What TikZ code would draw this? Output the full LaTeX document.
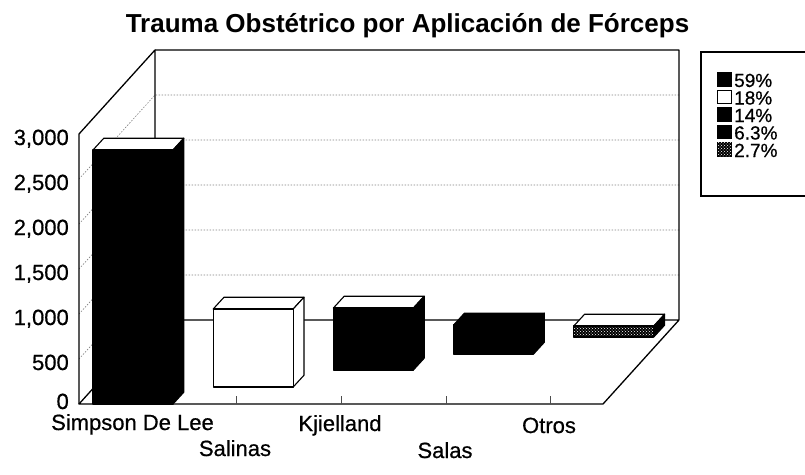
\documentclass[tikz,border=0pt]{standalone}
\usepackage{fontspec}
\setmainfont{Liberation Sans}
\newfontfamily\scanf{Liberation Sans}[FakeBold=0.6]
\usetikzlibrary{patterns}
\newcommand{\cbox}[8]{% x, y0, h, w, front, top, side, name
  \fill[#6] ({#1},{#2-#3}) -- ({#1+#4},{#2-#3}) -- ++(10.8,-11.8) -- ++({-#4},0) -- cycle;
  \draw[barline] ({#1},{#2-#3}) -- ({#1+#4},{#2-#3}) -- ++(10.8,-11.8) -- ++({-#4},0) -- cycle;
  \fill[#7] ({#1+#4},{#2}) -- ({#1+#4},{#2-#3}) -- ++(10.8,-11.8) -- ++(0,{#3}) -- cycle;
  \draw[barline] ({#1+#4},{#2}) -- ({#1+#4},{#2-#3}) -- ++(10.8,-11.8) -- ++(0,{#3}) -- cycle;
  \fill[#5] ({#1},{#2}) rectangle ({#1+#4},{#2-#3});
  \draw[barline] ({#1},{#2}) rectangle ({#1+#4},{#2-#3});
  \coordinate (#8) at ({#1},{#2});
}
\begin{document}
\begin{tikzpicture}[x=1pt,y=-1pt,
  axislab/.style={font=\scanf\fontsize{22}{22}\selectfont, anchor=base east, inner sep=0pt},
  catlab/.style={font=\scanf\fontsize{22}{22}\selectfont, anchor=base, inner sep=0pt},
  leglab/.style={font=\scanf\fontsize{19}{19}\selectfont, anchor=base west, inner sep=0pt},
  frame/.style={line width=1.3pt, line join=round},
  gridln/.style={black!50, line width=0.6pt, dash pattern=on 1.5pt off 1.5pt},
  barline/.style={black, line width=1.1pt, line join=round},
  tick/.style={black!70, line width=0.6pt},
  pat/.style={fill=black, postaction={pattern=crosshatch dots, pattern color=white}},
  legsq/.style={draw=black, line width=1pt}
]
\useasboundingbox (0,0) rectangle (805,474);

% frame coordinates
\coordinate (FL0) at (79,404);
\coordinate (FLT) at (79,134);
\coordinate (BL0) at (155,320);
\coordinate (BLT) at (155,50);
\coordinate (BR0) at (679,320);
\coordinate (BRT) at (679,50);
\coordinate (FR0) at (603,404);

% gridlines
\foreach \k in {1,...,5}{
  \coordinate (gf\k) at (79,{404-45*\k});
  \coordinate (gb\k) at (155,{320-45*\k});
  \coordinate (ge\k) at (679,{320-45*\k});
  \draw[gridln] (gf\k) -- (gb\k) -- (ge\k);
}

% walls and floor
\draw[frame] (FL0) -- (FLT) -- (BLT) -- (BL0);
\draw[frame] (BLT) -- (BRT) -- (BR0) -- (BL0) -- (FL0) -- (FR0) -- (BR0);

% category ticks on floor
\foreach \i in {1,...,4}{
  \coordinate (tk\i) at ({79+104.8*(\i+0.5)},404);
  \draw[tick] (tk\i) -- ++(0,-8);
}

% bars (back to front)
\cbox{573.8}{337}{11}{80}{pat}{white}{black}{b5}
\cbox{453.6}{354}{29}{80}{black}{black}{black}{b4}
\cbox{333.4}{370}{62}{80}{black}{white}{black}{b3}
\cbox{213.2}{387}{78}{80}{white}{white}{white}{b2}
\cbox{93}{404}{254}{80}{black}{white}{black}{b1}

% axis labels
\node[axislab] (y0) at (69,409) {0};
\node[axislab] (y1) at (69,370) {500};
\node[axislab] (y2) at (69,325) {1,000};
\node[axislab] (y3) at (69,280) {1,500};
\node[axislab] (y4) at (69,235) {2,000};
\node[axislab] (y5) at (69,190) {2,500};
\node[axislab] (y6) at (69,145) {3,000};

% category labels
\node[catlab] (c1) at (132.5,430) {Simpson De Lee};
\node[catlab] (c2) at (235,456) {Salinas};
\node[catlab] (c3) at (340,431) {Kjielland};
\node[catlab] (c4) at (445,458) {Salas};
\node[catlab] (c5) at (549,433) {Otros};

% title
\node[font=\fontsize{26}{26}\selectfont\bfseries, anchor=base, inner sep=0pt] (title) at (407.5,32) {Trauma Obstétrico por Aplicación de Fórceps};

% legend
\draw[line width=1.1pt] (701,52) rectangle (812,196);
\fill[black] (717,72) rectangle (732,86.5);
\draw[legsq, fill=white] (717.5,90) rectangle (731.5,103.5);
\fill[black] (717,107) rectangle (732,121.5);
\fill[black] (717,124.5) rectangle (732,139);
\draw[legsq, pat] (717.5,142.5) rectangle (731.5,156);
\node[leglab] (l1) at (734,87) {59\%};
\node[leglab] (l2) at (734,104.5) {18\%};
\node[leglab] (l3) at (734,122) {14\%};
\node[leglab] (l4) at (734,139.5) {6.3\%};
\node[leglab] (l5) at (734,157) {2.7\%};
\end{tikzpicture}
\end{document}
